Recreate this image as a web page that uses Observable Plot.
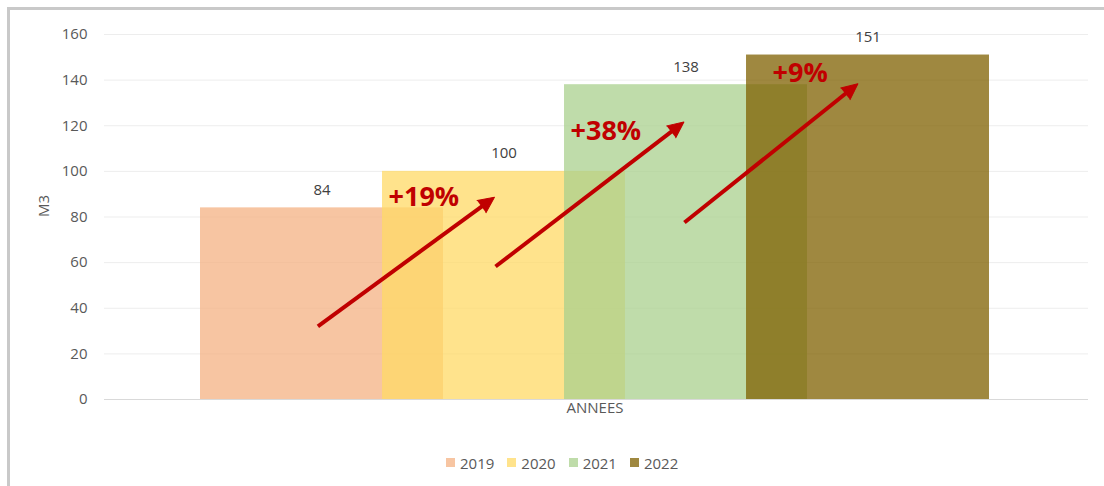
<!DOCTYPE html>
<html>
<head>
<meta charset="utf-8">
<script src="https://cdn.jsdelivr.net/npm/d3@7"></script>
<script src="https://cdn.jsdelivr.net/npm/@observablehq/plot@0.6"></script>
<style>
  html, body { margin: 0; padding: 0; background: #fff; }
  body { width: 1104px; height: 486px; position: relative; overflow: hidden; font-family: 'Open Sans', sans-serif; }
  #frame { position: absolute; left: 7px; top: 7px; width: 1120px; height: 500px;
           border-top: 3px solid #c9c9c9; border-left: 3px solid #c9c9c9; box-sizing: border-box; }
  #chart { position: absolute; left: 0; top: 0; }
  #legend { position: absolute; left: 446px; top: 446px; }
  #legend .lg-swatches, #legend .lg-swatches-wrap { font-family: 'Open Sans', sans-serif !important; font-size: 15px !important; color: #595959 !important; margin: 0 !important; }
  #legend .lg-swatch { margin-right: 13px !important; }
  #legend .lg-swatch > svg { margin-right: 5px !important; opacity: 0.75; }
</style>
</head>
<body>
<div id="frame"></div>
<div id="chart"></div>
<div id="legend"></div>
<script>
// ---- data ----
const years = ["2019", "2020", "2021", "2022"];
const volumes = [84, 100, 138, 151];
const colors = ["#F4B183", "#FFD966", "#A9D08E", "#7F6000"];
const yTicks = [0, 20, 40, 60, 80, 100, 120, 140, 160];
const yLabel = "M3";
const xLabel = "ANNEES";

// growth annotations
const growthLabels = ["+19%", "+38%", "+9%"];
const growthLabelX = [1.033, 2.033, 3.143];
const growthLabelY = [88.5, 117.5, 142.9];
const arrowX1 = [0.645, 1.621, 2.659];
const arrowY1 = [32.1, 58.3, 77.6];
const arrowX2 = [1.615, 2.656, 3.612];
const arrowY2 = [88.7, 121.6, 138.4];

// ---- layout ----
const barWidth = 1.335; // bar width relative to the step between overlapping bars
const red = "#C00000";
const font = "'Open Sans', sans-serif";

const bars = years.map((year, i) => ({year, value: volumes[i], x1: i, x2: i + barWidth}));
const growth = growthLabels.map((text, i) => ({text, x: growthLabelX[i], y: growthLabelY[i]}));
const arrowsRaw = growthLabels.map((_, i) => ({x1: arrowX1[i], y1: arrowY1[i], x2: arrowX2[i], y2: arrowY2[i]}));

function build(shafts, heads) {
  return Plot.plot({
    width: 1104,
    height: 430,
    marginTop: 34,
    marginBottom: 31,
    marginLeft: 104,
    marginRight: 16,
    style: {background: "transparent", fontFamily: font, fontSize: "15px", color: "#595959", overflow: "visible"},
    x: {domain: [-0.5275, 4.879], axis: null},
    y: {domain: [0, 160], axis: null},
    color: {domain: years, range: colors},
    marks: [
      Plot.ruleY(yTicks, {stroke: "#ededed", strokeWidth: 1}),
      Plot.rectY(bars, {x1: "x1", x2: "x2", y: "value", fill: "year", fillOpacity: 0.75}),
      Plot.ruleY([0], {stroke: "#d9d9d9", strokeWidth: 1}),
      Plot.axisY({ticks: yTicks, tickSize: 0, tickPadding: 17, label: null, fontSize: 15, fill: "#595959"}),
      Plot.text([yLabel], {frameAnchor: "left", rotate: -90, dx: -60.5, fontSize: 15, fill: "#595959"}),
      Plot.text([xLabel], {x: () => (bars[0].x1 + bars[bars.length - 1].x2) / 2, frameAnchor: "bottom", dy: 13, fontSize: 15, fill: "#595959"}),
      Plot.text(bars, {x: d => (d.x1 + d.x2) / 2, y: "value", text: d => String(d.value), dy: -18, fontSize: 15, fill: "#404040"}),
      Plot.link(shafts, {x1: "x1", y1: "y1", x2: "x2", y2: "y2", stroke: red, strokeWidth: 4}),
      Plot.vector(heads, {x: "x", y: "y", rotate: "angle", length: 16, r: 7.5, shape: "spike", anchor: "end", fill: red, stroke: red, strokeWidth: 1}),
      Plot.text(growth, {x: "x", y: "y", text: "text", textAnchor: "start", fontSize: 27, fontWeight: "bold", fill: red, fontFamily: font})
    ]
  });
}

// first pass to obtain the scales, second pass with arrowheads oriented in screen space
const probe = build(arrowsRaw, []);
const sx = probe.scale("x"), sy = probe.scale("y");
const shafts = [], heads = [];
for (const a of arrowsRaw) {
  const px1 = sx.apply(a.x1), py1 = sy.apply(a.y1);
  const px2 = sx.apply(a.x2), py2 = sy.apply(a.y2);
  const len = Math.hypot(px2 - px1, py2 - py1);
  const ux = (px2 - px1) / len, uy = (py2 - py1) / len;
  const cut = 10;
  shafts.push({x1: a.x1, y1: a.y1, x2: sx.invert(px2 - ux * cut), y2: sy.invert(py2 - uy * cut)});
  heads.push({x: a.x2, y: a.y2, angle: Math.atan2(ux, -uy) * 180 / Math.PI});
}
const chart = build(shafts, heads);
document.getElementById("chart").appendChild(chart);

const legend = chart.legend("color", {swatchSize: 9, className: "lg"});
document.getElementById("legend").appendChild(legend);
</script>
</body>
</html>
